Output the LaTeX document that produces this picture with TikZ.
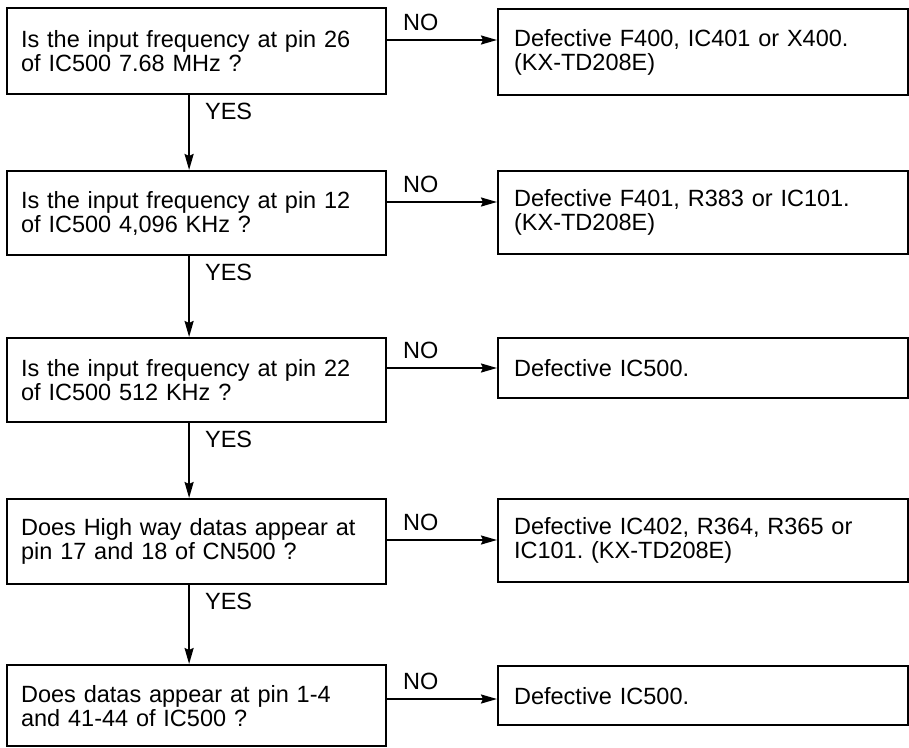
\documentclass[tikz,border=0pt]{standalone}
\usepackage{fontspec}
\setmainfont{Liberation Sans}
\usepackage{tikz}
\usetikzlibrary{arrows.meta,positioning}

\newcommand{\flowfont}{\fontsize{23.5}{24}\selectfont\frenchspacing}

\begin{document}
\begin{tikzpicture}[
    x=1pt, y=-1pt,
    qbox/.style={
      rectangle, draw=black, line width=2.2pt,
      anchor=north west, align=left, font=\flowfont,
      inner xsep=14pt, text width=351pt, minimum width=379pt,
    },
    abox/.style={
      rectangle, draw=black, line width=2.2pt,
      anchor=north west, align=left, font=\flowfont,
      inner xsep=16pt, text width=378pt, minimum width=410pt,
    },
    arr/.style={-{Stealth[length=16pt,width=9pt,inset=2pt]}, line width=2pt},
    nolbl/.style={pos=0, anchor=base west, xshift=15pt, yshift=10pt,
      inner sep=0pt, font=\flowfont},
    yeslbl/.style={pos=0, anchor=base west, xshift=15pt, yshift=-24pt,
      inner sep=0pt, font=\flowfont},
  ]
  \useasboundingbox (0,0) rectangle (909,747);

  % Left column: questions
  \node[qbox, minimum height=86pt] (q1) at (6,7)
    {Is the input frequency at pin 26\\of IC500 7.68 MHz ?};
  \node[qbox, minimum height=84pt] (q2) at (6,170)
    {Is the input frequency at pin 12\\of IC500 4,096 KHz ?};
  \node[qbox, minimum height=84pt] (q3) at (6,337)
    {Is the input frequency at pin 22\\of IC500 512 KHz ?};
  \node[qbox, minimum height=85pt] (q4) at (6,498)
    {Does High way datas appear at\\pin 17 and 18 of CN500 ?};
  \node[qbox, minimum height=81pt] (q5) at (6,664)
    {Does datas appear at pin 1-4\\and 41-44 of IC500 ?};

  % Right column: faults
  \node[abox, minimum height=86pt] (a1) at (497,8)
    {Defective F400, IC401 or X400.\\(KX-TD208E)};
  \node[abox, minimum height=83pt] (a2) at (497,170)
    {Defective F401, R383 or IC101.\\(KX-TD208E)};
  \node[abox, minimum height=60pt] (a3) at (497,337)
    {Defective IC500.};
  \node[abox, minimum height=83pt] (a4) at (497,498)
    {Defective IC402, R364, R365 or\\IC101. (KX-TD208E)};
  \node[abox, minimum height=59pt] (a5) at (497,665)
    {Defective IC500.};

  % NO branches
  \draw[arr] ([yshift=-33pt]q1.north east) -- node[nolbl] (no1) {NO} ([yshift=-32pt]a1.north west);
  \draw[arr] ([yshift=-32pt]q2.north east) -- node[nolbl] (no2) {NO} ([yshift=-32pt]a2.north west);
  \draw[arr] ([yshift=-31pt]q3.north east) -- node[nolbl] (no3) {NO} ([yshift=-31pt]a3.north west);
  \draw[arr] ([yshift=-42pt]q4.north east) -- node[nolbl] (no4) {NO} ([yshift=-42pt]a4.north west);
  \draw[arr] ([yshift=-35pt]q5.north east) -- node[nolbl] (no5) {NO} ([yshift=-34pt]a5.north west);

  % YES branches
  \draw[arr] ([xshift=-7.5pt]q1.south) -- node[yeslbl] (yes1) {YES} ([xshift=-7.5pt]q2.north);
  \draw[arr] ([xshift=-7.5pt]q2.south) -- node[yeslbl] (yes2) {YES} ([xshift=-7.5pt]q3.north);
  \draw[arr] ([xshift=-7.5pt]q3.south) -- node[yeslbl] (yes3) {YES} ([xshift=-7.5pt]q4.north);
  \draw[arr] ([xshift=-7.5pt]q4.south) -- node[yeslbl] (yes4) {YES} ([xshift=-7.5pt]q5.north);

\end{tikzpicture}
\end{document}
